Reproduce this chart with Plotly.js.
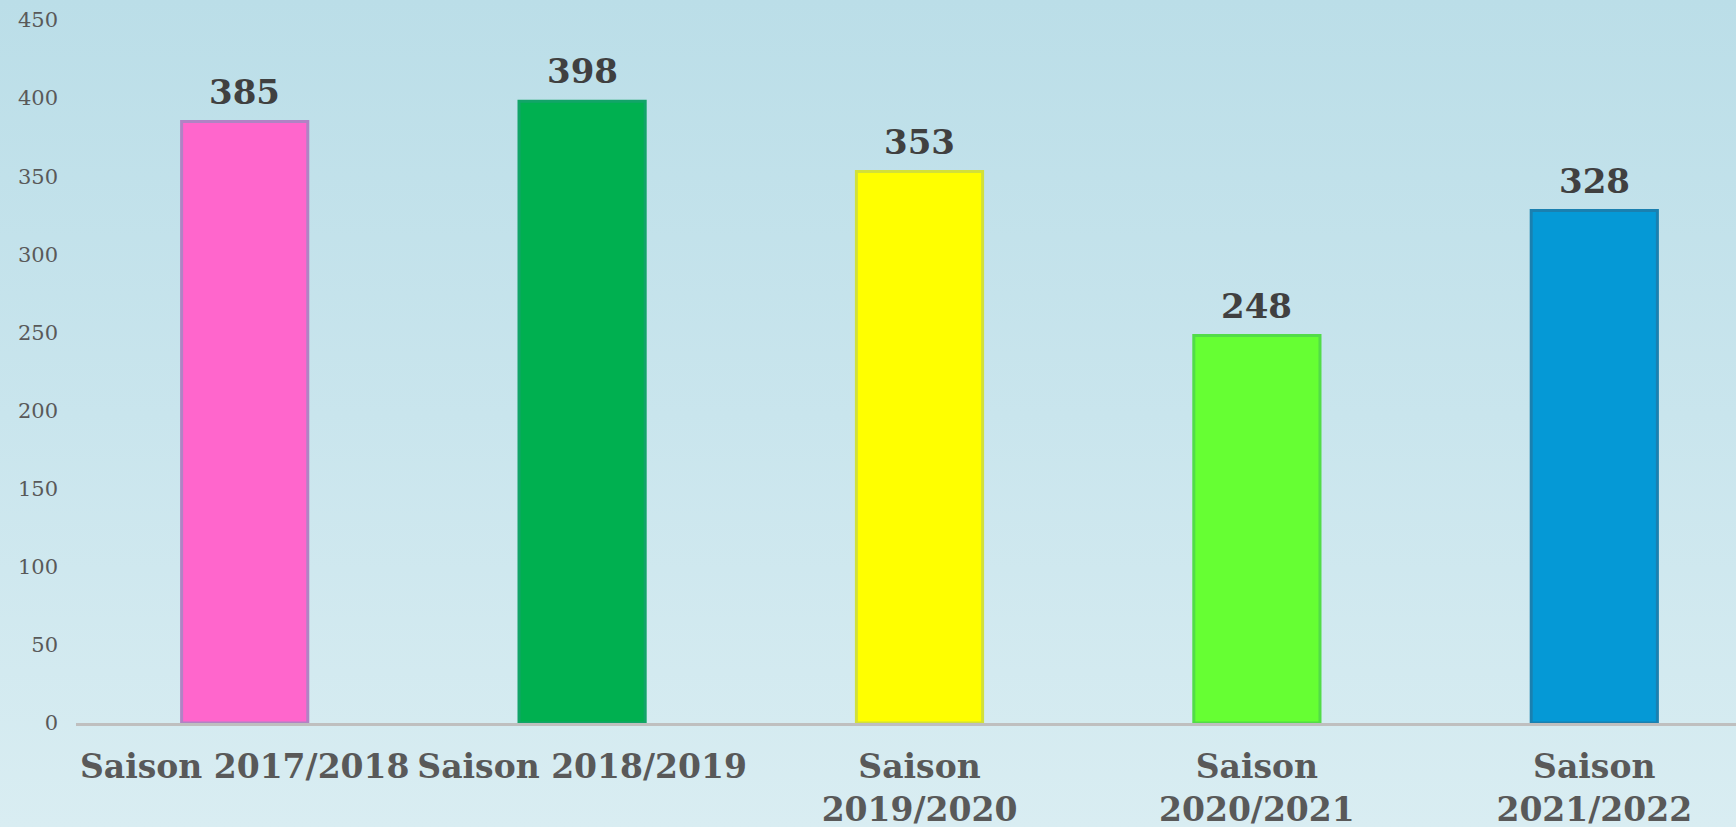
<!DOCTYPE html>
<html>
<head>
<meta charset="utf-8">
<script src="https://cdn.plot.ly/plotly-3.0.1.min.js"></script>
<style>
  html, body { margin: 0; padding: 0; }
  body { width: 1736px; height: 827px; overflow: hidden;
         background: linear-gradient(to bottom, #bbdee8 0%, #c9e5ed 50%, #d9edf2 100%); }
  #chart { width: 1736px; height: 827px; }
</style>
</head>
<body>
<div id="chart"></div>
<script>
// ---- data ----
const categories = ["Saison 2017/2018", "Saison 2018/2019", "Saison<br>2019/2020", "Saison<br>2020/2021", "Saison<br>2021/2022"];
const values = [385, 398, 353, 248, 328];
const barColors = ["#ff66cc", "#00b050", "#ffff00", "#66ff33", "#0599d6"];
const edgeColors = ["#b083c4", "#12a468", "#d2e03a", "#52dc48", "#1a80b0"];
const yTicks = [0, 50, 100, 150, 200, 250, 300, 350, 400, 450];

const trace = {
  type: "bar",
  x: categories,
  y: values,
  width: 0.374,
  marker: { color: barColors, line: { color: edgeColors, width: 3 } },
  hoverinfo: "none",
  showlegend: false
};

const annotations = categories.map((c, i) => ({
  x: c, y: values[i], xref: "x", yref: "y",
  text: String(values[i]),
  showarrow: false, yanchor: "bottom", yshift: 8,
  font: { family: "DejaVu Serif", size: 34, color: "#404040", weight: "bold" }
}));

const layout = {
  width: 1736, height: 827,
  margin: { l: 76, r: 0, t: 20, b: 104 },
  paper_bgcolor: "rgba(0,0,0,0)",
  plot_bgcolor: "rgba(0,0,0,0)",
  annotations: annotations,
  xaxis: {
    type: "category",
    range: [-0.5, 4.42],
    tickangle: 0,
    showline: true, linecolor: "#bfbfbf", linewidth: 3,
    showgrid: false, zeroline: false, ticks: "",
    ticklabelstandoff: 12,
    tickfont: { family: "DejaVu Serif", size: 33, color: "#595959", weight: "bold" }
  },
  yaxis: {
    range: [0, 450],
    tickvals: yTicks,
    ticktext: yTicks.map(String),
    showline: false, showgrid: false, zeroline: false, ticks: "",
    ticklabelstandoff: 17,
    tickfont: { family: "DejaVu Serif", size: 21, color: "#595959" }
  }
};

Plotly.newPlot("chart", [trace], layout, { displayModeBar: false, staticPlot: true });
</script>
</body>
</html>
